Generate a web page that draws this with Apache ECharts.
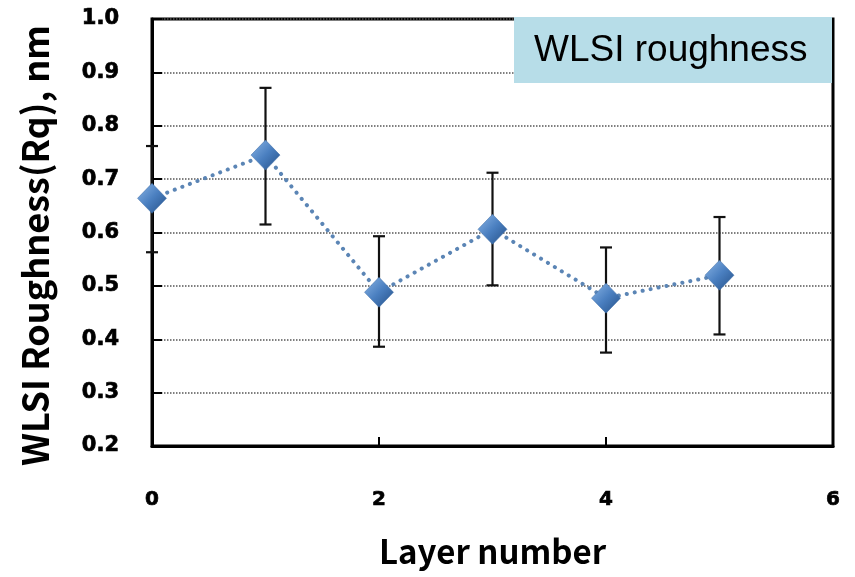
<!DOCTYPE html>
<html><head><meta charset="utf-8">
<script src="https://cdn.jsdelivr.net/npm/echarts@6/dist/echarts.min.js"></script>
<style>html,body{margin:0;padding:0;background:#fff}#c{width:855px;height:577px}</style>
</head><body><div id="c"></div>
<script>
const layers = [0, 1, 2, 3, 4, 5];
const roughness = [0.664, 0.745, 0.488, 0.606, 0.477, 0.520];
const errLow = [0.563, 0.615, 0.386, 0.501, 0.375, 0.409];
const errHigh = [0.762, 0.871, 0.593, 0.712, 0.572, 0.629];
const legendText = 'WLSI roughness';
const xTitle = 'Layer number';
const yTitle = 'WLSI Roughness(Rq), nm';

const chart = echarts.init(document.getElementById('c'));
const titleFont = '"Noto Sans CJK KR", "Noto Sans", sans-serif';
const tickFont = '"DejaVu Sans", Verdana, sans-serif';
chart.setOption({
  animation: false,
  grid: { left: 152, right: 22, top: 19, bottom: 131, show: true, borderColor: '#000', borderWidth: 3, backgroundColor: 'transparent' },
  xAxis: {
    type: 'value', min: 0, max: 6, interval: 2,
    name: xTitle, nameLocation: 'middle', nameGap: 89,
    nameTextStyle: { fontFamily: titleFont, fontWeight: 'bold', fontSize: 33, color: '#000' },
    axisLine: { lineStyle: { color: '#000', width: 3 } },
    axisTick: { inside: true, length: 9, lineStyle: { color: '#000', width: 2 } },
    axisLabel: { margin: 44, fontFamily: tickFont, fontWeight: 'bold', fontSize: 20, color: '#000', textBorderColor: '#000', textBorderWidth: 0.7 },
    splitLine: { show: false }
  },
  yAxis: {
    type: 'value', min: 0.2, max: 1.0, interval: 0.1,
    name: yTitle, nameLocation: 'middle', nameGap: 99,
    nameTextStyle: { fontFamily: titleFont, fontWeight: 'bold', fontSize: 36, color: '#000', padding: [0, 26, 0, 0] },
    axisLine: { lineStyle: { color: '#000', width: 3 } },
    axisTick: { inside: true, length: 10, lineStyle: { color: '#000', width: 2 } },
    axisLabel: { margin: 33, fontFamily: tickFont, fontWeight: 'bold', fontSize: 21, color: '#000', textBorderColor: '#000', textBorderWidth: 0.7, formatter: v => v.toFixed(1) },
    splitLine: { show: true, lineStyle: { color: '#555', width: 1.5, type: [1.5, 1.5] } }
  },
  graphic: [
    { type: 'rect', left: 514, top: 17, shape: { width: 318, height: 66 }, style: { fill: '#b7dde8' }, z: 100 },
    { type: 'text', left: 534, top: 32, style: { text: legendText, font: '37px "Liberation Sans", Arial, sans-serif', fill: '#000' }, z: 101 }
  ],
  series: [
    {
      type: 'custom',
      data: layers.map((x, i) => [x, errLow[i], errHigh[i]]),
      renderItem: function (params, api) {
        const lo = api.coord([api.value(0), api.value(1)]);
        const hi = api.coord([api.value(0), api.value(2)]);
        const cw = 6;
        const st = { stroke: '#111', lineWidth: 2.2 };
        return { type: 'group', children: [
          { type: 'line', shape: { x1: lo[0], y1: lo[1], x2: hi[0], y2: hi[1] }, style: st },
          { type: 'line', shape: { x1: lo[0] - cw, y1: lo[1], x2: lo[0] + cw, y2: lo[1] }, style: st },
          { type: 'line', shape: { x1: hi[0] - cw, y1: hi[1], x2: hi[0] + cw, y2: hi[1] }, style: st }
        ]};
      },
      z: 2
    },
    {
      type: 'line',
      data: layers.map((x, i) => [x, roughness[i]]),
      lineStyle: { color: '#5b85b5', width: 4, type: [0.1, 8], cap: 'round' },
      symbol: 'diamond', symbolSize: [29, 30],
      itemStyle: {
        color: new echarts.graphic.LinearGradient(0, 0, 1, 1, [
          { offset: 0, color: '#8cb6e6' }, { offset: 0.5, color: '#4a7fc0' }, { offset: 1, color: '#244f86' }
        ]),
        borderColor: '#3a6aa5', borderWidth: 0.5
      },
      z: 3
    }
  ]
});
</script></body></html>
